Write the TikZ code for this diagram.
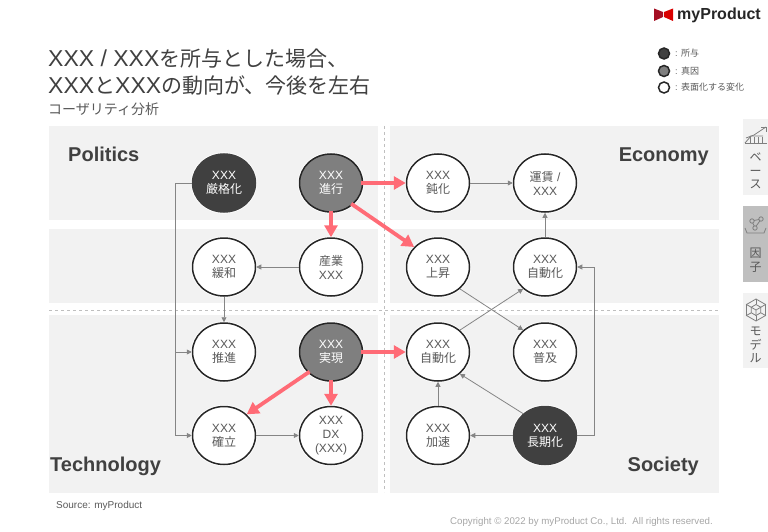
\documentclass[tikz,border=0pt]{standalone}
\usepackage{fontspec}
\setmainfont{Liberation Sans}
\newfontfamily\cjk{Noto Sans CJK JP}
\newfontfamily\cjkv[RawFeature={vert}]{Noto Sans CJK JP}
\newcommand{\jp}[1]{{\cjk #1}}
\newcommand{\jpt}[1]{{\cjk\fontsize{21}{27}\selectfont #1}}
\usetikzlibrary{arrows.meta,shapes.geometric}
\definecolor{panel}{HTML}{F2F2F2}
\definecolor{txtgray}{HTML}{595959}
\definecolor{darkgray}{HTML}{404040}
\definecolor{midgray}{HTML}{7F7F7F}
\definecolor{rim}{HTML}{262626}
\definecolor{linkgray}{HTML}{858585}
\definecolor{pink}{HTML}{FF6B76}
\definecolor{logored}{HTML}{A50F23}
\tikzset{
    factor/.style={ellipse, draw=rim, line width=1.5pt, minimum width=63pt, minimum height=58pt,
        inner sep=0pt, align=center, text=txtgray, font=\fontsize{12}{14}\selectfont,
        preaction={draw=white, line width=3.2pt}},
    whitefactor/.style={factor, fill=white},
    midfactor/.style={factor, fill=midgray, text=white},
    darkfactor/.style={factor, fill=darkgray, draw=darkgray, text=white},
    link/.style={draw=linkgray, line width=0.8pt, -{Triangle[length=5pt,width=5pt]}},
    hotlink/.style={draw=pink, line width=3.8pt, -{Triangle[length=12pt,width=13pt,inset=0pt]}, shorten <=-2pt},
    domainlabel/.style={font=\bfseries\fontsize{20}{24}\selectfont, text=darkgray, inner sep=0pt},
    legenddot/.style={circle, draw=rim, line width=1.5pt, minimum size=11pt, inner sep=0pt},
    legendtext/.style={anchor=base west, inner sep=0pt, text=txtgray, font=\fontsize{9}{11}\selectfont},
    tabtext/.style={align=center, inner sep=0pt, text=txtgray, font=\fontsize{12}{13.5}\selectfont\cjkv},
    iconline/.style={draw=midgray, line width=0.8pt}
}
\begin{document}
\begin{tikzpicture}[x=1pt, y=-1pt]
    \useasboundingbox (0,0) rectangle (768,532);

    % Panels
    \foreach \x/\w in {49/329, 390/329}{
        \foreach \y/\h in {126/94, 229/74, 315/177.5}{
            \fill [panel] (\x, \y) rectangle ++(\w, \h);
        }
    }
    \draw [dashed, gray!50, line width=0.6pt] (49, 310) -- (719, 310);
    \draw [dashed, gray!50, line width=0.6pt] (384, 126) -- (384, 492);

    % Titles
    \node [anchor=base west, inner sep=0pt, align=left, text=darkgray, font=\fontsize{23}{27}\selectfont]
        (title) at (48, 94) {XXX / XXX\jpt{を所与とした場合、}\\XXX\jpt{と}XXX\jpt{の動向が、今後を左右}};
    \node [anchor=base west, inner sep=0pt, text=txtgray, font=\fontsize{14}{16}\selectfont\cjk]
        (subtitle) at (48, 114) {コーザリティ分析};

    % Logo
    \fill [logored] (654, 8.5) -- (663, 12) -- (663, 17) -- (654, 21) -- cycle;
    \fill [red!85!black] (673, 8.5) -- (664, 12) -- (664, 17) -- (673, 21) -- cycle;
    \node [anchor=base west, inner sep=0pt, font=\bfseries\fontsize{16}{18}\selectfont, text=black!85]
        (logo) at (677, 20) {myProduct};

    % Legend
    \node [legenddot, fill=darkgray] (legenda) at (664, 53.5) {};
    \node [legenddot, fill=midgray] (legendb) at (664, 71) {};
    \node [legenddot, fill=white] (legendc) at (664, 87.5) {};
    \node [legendtext] at (675, 57) {: \jp{所与}};
    \node [legendtext] at (675, 74.5) {: \jp{真因}};
    \node [legendtext] at (675, 91) {: \jp{表面化する変化}};

    % Domains
    \node [domainlabel, anchor=base west] (politics) at (68, 161) {Politics};
    \node [domainlabel, anchor=base east] (economy) at (709, 161) {Economy};
    \node [domainlabel, anchor=base west] (technology) at (50, 471) {Technology};
    \node [domainlabel, anchor=base east] (society) at (699, 471) {Society};

    % Factors
    \node [darkfactor] (genkaku) at (224, 183) {XXX\\\jp{厳格化}};
    \node [midfactor] (shinko) at (331, 183) {XXX\\\jp{進行}};
    \node [whitefactor] (donka) at (438, 183) {XXX\\\jp{鈍化}};
    \node [whitefactor] (chingin) at (545, 183) {\jp{運賃} /\\XXX};
    \node [whitefactor] (kanwa) at (224, 267) {XXX\\\jp{緩和}};
    \node [whitefactor] (sangyo) at (331, 267) {\jp{産業}\\XXX};
    \node [whitefactor] (josho) at (438, 267) {XXX\\\jp{上昇}};
    \node [whitefactor] (jidokaup) at (545, 267) {XXX\\\jp{自動化}};
    \node [whitefactor] (suishin) at (224, 352) {XXX\\\jp{推進}};
    \node [midfactor] (jitsugen) at (331, 352) {XXX\\\jp{実現}};
    \node [whitefactor] (jidokalow) at (438, 352) {XXX\\\jp{自動化}};
    \node [whitefactor] (fukyu) at (545, 352) {XXX\\\jp{普及}};
    \node [whitefactor] (kakuritsu) at (224, 435.5) {XXX\\\jp{確立}};
    \node [whitefactor] (dx) at (331, 435.5) {XXX\\DX\\(XXX)};
    \node [whitefactor] (kasoku) at (438, 435.5) {XXX\\\jp{加速}};
    \node [darkfactor] (choki) at (545, 435.5) {XXX\\\jp{長期化}};

    % Links
    \coordinate (railtop) at (175, 183);
    \coordinate (railmid) at (175, 352);
    \coordinate (railbot) at (175, 435.5);
    \coordinate (sideup) at (594, 267);
    \coordinate (sidelow) at (594, 435.5);
    \draw [link, -] (genkaku) -- (railtop) -- (railbot);
    \draw [link] (railmid) -- (suishin);
    \draw [link] (railbot) -- (kakuritsu);
    \draw [link] (sangyo) -- (kanwa);
    \draw [link] (kanwa) -- (suishin);
    \draw [link] (kakuritsu) -- (dx);
    \draw [link] (donka) -- (chingin);
    \draw [link] (jidokaup) -- (chingin);
    \draw [link] (josho.-45) -- (fukyu.135);
    \draw [link] (jidokalow.45) -- (jidokaup.-135);
    \draw [link] (choki) -- (sidelow) -- (sideup) -- (jidokaup);
    \draw [link] (choki) -- (kasoku);
    \draw [link] (kasoku) -- (jidokalow);
    \draw [link] (choki.135) -- (jidokalow.-45);

    % Main drivers
    \draw [hotlink] (shinko) -- (donka);
    \draw [hotlink] (shinko.-45) -- (josho.140);
    \draw [hotlink] (shinko) -- (sangyo);
    \draw [hotlink] (jitsugen) -- (jidokalow);
    \draw [hotlink] (jitsugen) -- (dx);
    \draw [hotlink] (jitsugen.222) -- (kakuritsu.43);

    % Side tabs
    \fill [panel] (743, 119) rectangle (768, 195);
    \fill [gray!50] (743, 206) rectangle (768, 282);
    \fill [panel] (743, 293) rectangle (768, 368);
    \node [tabtext] (tabbase) at (755.5, 171) {ベ\\ー\\ス};
    \node [tabtext] (tabfactor) at (755.5, 260) {因\\子};
    \node [tabtext] (tabmodel) at (755.5, 345) {モ\\デ\\ル};

    % Icons
    \draw [iconline] (745, 143) -- (767, 143);
    \draw [iconline] (745, 143) -- (751, 136) -- (763, 136);
    \draw [iconline] (746, 138) -- (754, 135) -- (766, 127);
    \foreach \x in {750, 754, 758, 762}{
        \draw [iconline] (\x, 143) -- (\x, 137);
    }
    \draw [iconline] (761, 127) -- (766, 127) -- (766, 132);
    \draw [iconline] (745, 228) -- (747, 233) -- (764, 233) -- (766, 228);
    \draw [iconline] (752, 221) circle (2.2) (761, 219) circle (2.2) (755, 228) circle (2.2);
    \draw [iconline] (754, 220.5) -- (759, 219.5) (752.8, 223) -- (754.2, 226) (759.8, 221) -- (756.2, 226);
    \node [regular polygon, regular polygon sides=6, shape border rotate=30, iconline, draw, minimum size=22pt, inner sep=0pt] (hexa) at (756, 310) {};
    \node [regular polygon, regular polygon sides=6, shape border rotate=30, iconline, draw, minimum size=11pt, inner sep=0pt] (hexb) at (756, 310) {};
    \foreach \c in {1,...,6}{
        \draw [iconline] (hexa.corner \c) -- (hexb.corner \c);
    }
    \draw [iconline] (hexb.corner 2) -- (hexb.center) -- (hexb.corner 4) (hexb.center) -- (hexb.corner 6);

    % Footer
    \node [anchor=base west, inner sep=0pt, text=txtgray, font=\fontsize{10}{12}\selectfont] (source) at (56, 508) {Source: myProduct};
    \node [anchor=base east, inner sep=0pt, text=black!35, font=\fontsize{9.7}{12}\selectfont] (copyright) at (713, 524) {Copyright © 2022 by myProduct Co., Ltd.\ \ All rights reserved.};
\end{tikzpicture}
\end{document}
